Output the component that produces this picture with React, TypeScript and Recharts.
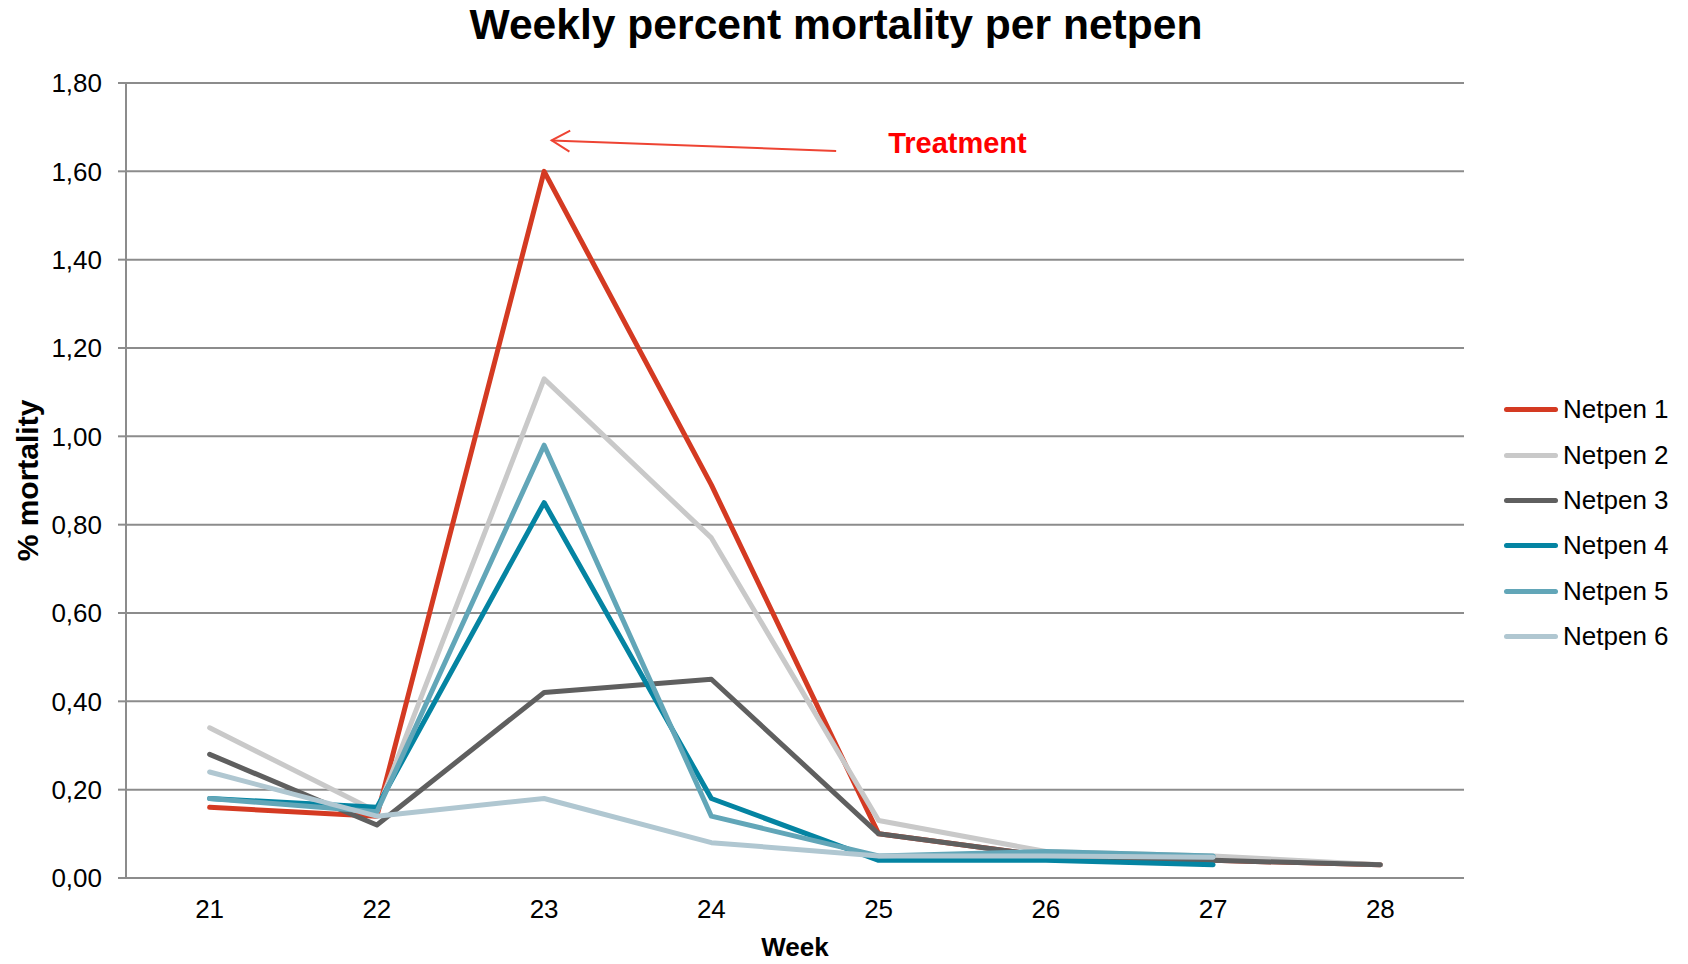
import React from 'react';
import {
  LineChart,
  Line,
  XAxis,
  YAxis,
  CartesianGrid,
  Legend,
  ReferenceLine,
} from 'recharts';

const weeks = [21, 22, 23, 24, 25, 26, 27, 28];
const weekEdges = [20.5, 21.5, 22.5, 23.5, 24.5, 25.5, 26.5, 27.5, 28.5];
const yTicks = [0, 0.2, 0.4, 0.6, 0.8, 1.0, 1.2, 1.4, 1.6, 1.8];

const netpen1 = [0.16, 0.14, 1.6, 0.89, 0.1, 0.05, 0.04, 0.03];
const netpen2 = [0.34, 0.15, 1.13, 0.77, 0.13, 0.06, 0.05, 0.03];
const netpen3 = [0.28, 0.12, 0.42, 0.45, 0.1, 0.05, 0.04, 0.03];
const netpen4 = [0.18, 0.16, 0.85, 0.18, 0.04, 0.04, 0.03, null];
const netpen5 = [0.18, 0.15, 0.98, 0.14, 0.05, 0.06, 0.05, null];
const netpen6 = [0.24, 0.14, 0.18, 0.08, 0.05, 0.05, 0.047, null];

const seriesNames = ['Netpen 1', 'Netpen 2', 'Netpen 3', 'Netpen 4', 'Netpen 5', 'Netpen 6'];
const seriesColors = ['#D43A22', '#C9C9C9', '#5F5F5F', '#0484A2', '#62A6B8', '#B0C7D1'];
const seriesValues = [netpen1, netpen2, netpen3, netpen4, netpen5, netpen6];

// arrow annotation, in data units (tip first, then tail)
const treatmentTip = { x: 23.045, y: 1.67 };
const treatmentTail = { x: 24.746, y: 1.646 };

const data = weeks.map((week, i) => {
  const row: Record<string, number | null> = { week };
  seriesValues.forEach((vals, s) => {
    row[`n${s + 1}`] = vals[i];
  });
  return row;
});

const FONT = '"Liberation Sans", Arial, Helvetica, sans-serif';
const GRID = '#8C8C8C';

const fmt = (v: number) => v.toFixed(2).replace('.', ',');

function TreatmentArrow(props: any) {
  const { x1, y1, x2, y2 } = props;
  const dx = x2 - x1;
  const dy = y2 - y1;
  const len = Math.sqrt(dx * dx + dy * dy) || 1;
  const ux = dx / len;
  const uy = dy / len;
  const head = 21;
  const a = (30 * Math.PI) / 180;
  const ax1 = x1 + head * (ux * Math.cos(a) - uy * Math.sin(a));
  const ay1 = y1 + head * (ux * Math.sin(a) + uy * Math.cos(a));
  const ax2 = x1 + head * (ux * Math.cos(-a) - uy * Math.sin(-a));
  const ay2 = y1 + head * (ux * Math.sin(-a) + uy * Math.cos(-a));
  return (
    <g>
      <line x1={x1} y1={y1} x2={x2} y2={y2} stroke="#EE4433" strokeWidth={2} />
      <polyline
        points={`${ax1},${ay1} ${x1},${y1} ${ax2},${ay2}`}
        fill="none"
        stroke="#EE4433"
        strokeWidth={2}
      />
      <text
        x={x2 + 52}
        y={y2 - 8}
        dominantBaseline="central"
        fontFamily={FONT}
        fontWeight="bold"
        fontSize={29}
        fill="#FF0000"
      >
        Treatment
      </text>
    </g>
  );
}

function LegendBox(props: any) {
  const { payload } = props;
  return (
    <div style={{ fontFamily: FONT }}>
      {(payload || []).map((item: any) => (
        <div
          key={item.value}
          style={{ display: 'flex', alignItems: 'center', height: 45.4 }}
        >
          <span
            style={{
              display: 'inline-block',
              width: 54,
              height: 5,
              marginLeft: 4,
              borderRadius: 3,
              background: item.color,
            }}
          />
          <span style={{ marginLeft: 5, fontSize: 26, color: '#000' }}>{item.value}</span>
        </div>
      ))}
    </div>
  );
}

export default function App() {
  return (
    <div style={{ position: 'absolute', left: 0, top: 0, width: 1688, height: 964, background: '#fff' }}>
      <LineChart
        width={1688}
        height={964}
        data={data}
        margin={{ top: 83, right: 224, bottom: 0, left: 0 }}
      >
        <text
          x={836}
          y={39}
          textAnchor="middle"
          fontFamily={FONT}
          fontWeight="bold"
          fontSize={42.6}
          fill="#000"
        >
          Weekly percent mortality per netpen
        </text>
        <CartesianGrid vertical={false} stroke={GRID} strokeWidth={2} />
        <XAxis
          xAxisId="edges"
          type="number"
          dataKey="week"
          domain={[20.5, 28.5]}
          ticks={weekEdges}
          interval={0}
          tickFormatter={() => ''}
          axisLine={false}
          tickLine={{ stroke: GRID, strokeWidth: 2 }}
          tickSize={8}
          height={0}
        />
        <XAxis
          type="number"
          dataKey="week"
          domain={[20.5, 28.5]}
          ticks={weeks}
          interval={0}
          axisLine={{ stroke: GRID, strokeWidth: 2 }}
          tickLine={false}
          tickSize={8}
          tickMargin={14}
          height={86}
          tick={{ fontFamily: FONT, fontSize: 26, fill: '#000' }}
          label={{
            value: 'Week',
            position: 'insideBottom',
            offset: 8,
            style: { fontFamily: FONT, fontSize: 26, fontWeight: 'bold', fill: '#000' },
          }}
        />
        <YAxis
          domain={[0, 1.8]}
          ticks={yTicks}
          interval={0}
          width={126}
          tickFormatter={fmt}
          axisLine={{ stroke: GRID, strokeWidth: 2 }}
          tickLine={{ stroke: GRID, strokeWidth: 2 }}
          tickSize={8}
          tickMargin={16}
          tick={{ fontFamily: FONT, fontSize: 26, fill: '#000' }}
          label={{
            value: '% mortality',
            angle: -90,
            position: 'insideLeft',
            offset: 27,
            style: {
              fontFamily: FONT,
              fontSize: 30,
              fontWeight: 'bold',
              fill: '#000',
              textAnchor: 'middle',
            },
          }}
        />
        <ReferenceLine
          segment={[treatmentTip, treatmentTail]}
          shape={TreatmentArrow}
          ifOverflow="visible"
        />
        {seriesNames.map((name, s) => (
          <Line
            key={name}
            type="linear"
            dataKey={`n${s + 1}`}
            name={name}
            stroke={seriesColors[s]}
            strokeWidth={5}
            strokeLinejoin="round"
            strokeLinecap="round"
            dot={false}
            activeDot={false}
            isAnimationActive={false}
          />
        ))}
        <Legend
          layout="vertical"
          align="center"
          verticalAlign="middle"
          wrapperStyle={{ left: 1500, top: 387, width: 188 }}
          content={LegendBox}
        />
      </LineChart>
    </div>
  );
}
